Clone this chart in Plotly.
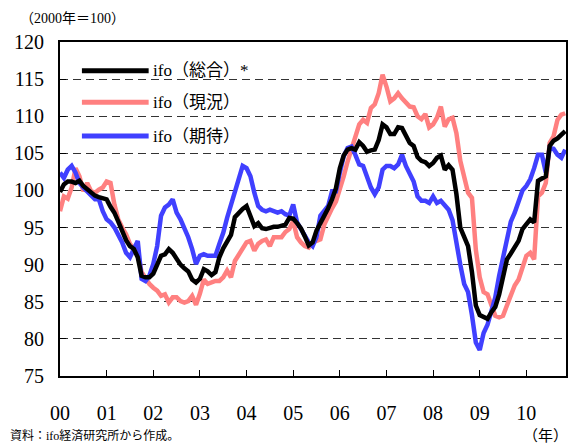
import plotly.graph_objects as go

# ---- data (monthly, Jan 2000 .. Nov 2010), 2000 = 100 ----
start_year = 2000
ifo_total = [
    99.8, 100.8, 101.2, 101.2, 101.0, 101.3, 100.6, 100.1, 99.7, 99.3, 99.1, 99.0,
    98.8, 97.8, 97.0, 95.8, 94.6, 93.3, 92.5, 92.1, 91.0, 88.5, 88.3, 88.3,
    88.8, 89.9, 91.2, 91.4, 92.1, 91.6, 90.8, 90.0, 89.5, 89.1, 88.0, 87.6,
    88.1, 89.4, 89.1, 88.6, 89.0, 91.0, 92.2, 93.0, 94.0, 96.4, 97.0, 97.5,
    97.9, 96.6, 95.2, 95.6, 94.9, 94.8, 95.0, 95.1, 95.1, 95.2, 95.4, 96.3,
    96.2, 95.6, 94.9, 93.8, 92.6, 93.0, 94.6, 95.6, 96.5, 97.6, 98.8, 100.3,
    103.0, 104.7, 105.5, 105.7, 105.5, 106.5, 106.0, 105.2, 105.4, 105.5, 106.8, 108.9,
    108.5, 107.6, 107.6, 108.5, 108.4, 107.3, 106.4, 106.0, 104.5, 104.0, 103.8, 103.3,
    103.7, 104.4, 104.7, 102.8, 103.4, 102.8, 99.5, 95.0, 93.8, 92.5, 89.0, 84.5,
    83.2, 83.0, 82.7, 83.6, 84.3, 86.0, 88.5, 90.7, 91.5, 92.3, 93.2, 94.8,
    95.4, 96.1, 95.7, 101.3, 101.6, 101.9, 106.0, 106.7, 107.0, 107.6, 108.0,
]
ifo_current = [
    97.2, 99.2, 98.9, 100.4, 103.0, 101.9, 99.9, 101.0, 99.9, 99.7, 100.1, 100.4,
    101.2, 101.0, 98.1, 96.1, 95.0, 94.1, 92.8, 92.3, 91.6, 89.0, 88.1, 87.4,
    86.9, 86.5, 85.8, 86.0, 84.9, 85.6, 85.6, 85.1, 84.9, 85.1, 85.8, 84.6,
    86.1, 88.0, 87.4, 87.6, 87.8, 87.8, 88.3, 89.2, 88.3, 90.5, 91.4, 92.1,
    93.0, 93.2, 91.9, 92.8, 93.2, 93.4, 92.5, 93.7, 93.7, 93.7, 94.4, 94.8,
    95.9, 93.7, 93.0, 92.5, 92.3, 93.0, 93.2, 93.4, 95.4, 96.7, 97.6, 98.5,
    100.1, 101.9, 103.9, 105.7, 107.3, 108.9, 109.5, 109.1, 111.1, 111.6, 113.1, 115.6,
    114.0, 112.0, 112.4, 113.1, 112.4, 111.8, 111.3, 111.2, 110.0, 109.6, 110.3, 108.5,
    108.9, 109.8, 111.3, 108.6, 109.6, 109.8, 107.7, 104.0, 101.8, 99.7, 99.0, 92.0,
    88.3, 86.3, 86.0, 84.5, 83.1, 82.9, 83.1, 84.5, 86.0, 87.2, 88.0, 89.4,
    91.2, 91.6, 90.7, 99.2, 99.7, 101.0, 106.4, 107.3, 109.5, 110.2, 110.4,
]
ifo_expect = [
    102.4, 101.7, 102.8, 103.3, 102.4, 101.0, 100.4, 99.9, 99.5, 98.8, 98.8, 97.2,
    96.1, 95.7, 95.0, 94.1, 93.0, 91.6, 91.0, 92.1, 93.2, 88.1, 87.8, 88.5,
    90.1, 92.5, 96.6, 97.7, 98.1, 98.8, 97.0, 96.1, 95.0, 93.7, 92.1, 90.1,
    91.2, 91.4, 91.2, 91.2, 91.2, 92.8, 94.3, 96.3, 98.1, 100.1, 101.7, 103.3,
    103.0, 101.9, 99.7, 97.9, 97.4, 97.2, 97.4, 97.2, 97.0, 97.2, 96.8, 96.6,
    98.1, 95.7, 94.8, 93.9, 93.0, 92.5, 93.7, 96.6, 97.2, 97.9, 99.9, 99.9,
    102.4, 104.6, 105.7, 105.9, 104.8, 103.5, 103.3, 101.7, 100.4, 99.5, 100.4, 102.8,
    103.3, 103.3, 103.0, 103.5, 104.8, 103.3, 102.1, 101.2, 99.2, 98.6, 98.6, 98.3,
    99.2, 98.3, 98.6, 97.9, 97.4, 96.0, 92.5, 90.0, 87.4, 86.3, 83.2, 79.5,
    78.5, 80.8, 81.9, 83.6, 85.6, 88.5, 91.0, 94.0, 95.8, 97.0, 98.5, 100.0,
    100.6, 101.5, 103.0, 104.8, 104.8, 102.4, 105.7, 105.6, 104.8, 104.4, 105.5,
]
year_ticks = list(range(2000, 2011))
year_labels = ["00", "01", "02", "03", "04", "05", "06", "07", "08", "09", "10"]
series_names = ["ifo（総合）*", "ifo（現況）", "ifo（期待）"]

months = [start_year + i / 12 for i in range(len(ifo_total))]

SERIF = "Liberation Serif, Times New Roman, Noto Sans CJK JP, serif"
BLACK = "#000000"
PINK = "#FF8080"
BLUE = "#4040FF"

fig = go.Figure()
fig.add_trace(go.Scatter(x=months, y=ifo_current, mode="lines", name=series_names[1],
                         line=dict(color=PINK, width=4.5), showlegend=False))
fig.add_trace(go.Scatter(x=months, y=ifo_expect, mode="lines", name=series_names[2],
                         line=dict(color=BLUE, width=4.5), showlegend=False))
fig.add_trace(go.Scatter(x=months, y=ifo_total, mode="lines", name=series_names[0],
                         line=dict(color=BLACK, width=4.5), showlegend=False))

# custom legend (long line samples like the original)
L, R, T, B = 60, 568, 42, 376
W, H = R - L, B - T
def px(x):
    return (x - L) / W
def py(y):
    return (B - y) / H

fig.add_shape(type="rect", xref="paper", yref="paper", layer="below",
              x0=px(68), x1=px(266), y0=py(148), y1=py(56),
              fillcolor="white", line=dict(width=0))
for name, color, yy in zip(series_names, [BLACK, PINK, BLUE], [70.7, 102.3, 136]):
    fig.add_shape(type="line", xref="paper", yref="paper",
                  x0=px(82), x1=px(149), y0=py(yy), y1=py(yy),
                  line=dict(color=color, width=5))
    fig.add_annotation(xref="paper", yref="paper", x=px(151), y=py(yy),
                       xanchor="left", yanchor="middle", showarrow=False,
                       text=name, font=dict(family=SERIF, size=17, color="black"))

fig.add_annotation(xref="paper", yref="paper", x=px(18), y=py(18),
                   xanchor="left", yanchor="middle", showarrow=False,
                   text="（2000年＝100）", font=dict(family=SERIF, size=14, color="black"))
fig.add_annotation(xref="paper", yref="paper", x=px(572), y=py(436),
                   xanchor="right", yanchor="middle", showarrow=False,
                   text="（年）", font=dict(family=SERIF, size=15, color="black"))
fig.add_annotation(xref="paper", yref="paper", x=px(8), y=py(445),
                   xanchor="left", yanchor="bottom", showarrow=False,
                   text="資料：ifo経済研究所から作成。", font=dict(family=SERIF, size=12, color="black"))

fig.update_xaxes(range=[2000, 2010.85], tickmode="array", tickvals=year_ticks,
                 ticktext=year_labels, ticks="inside", ticklen=6, tickwidth=1,
                 tickcolor="black", showline=True, linecolor="black", linewidth=2,
                 mirror=True, showgrid=False, zeroline=False, ticklabelstandoff=18,
                 tickfont=dict(family=SERIF, size=20, color="black"))
fig.update_yaxes(range=[75, 120], dtick=5, tick0=75, ticks="inside", ticklen=6,
                 tickwidth=1, tickcolor="black", showline=True, linecolor="black",
                 linewidth=2, mirror=True, showgrid=True, gridcolor="#333333",
                 gridwidth=1, griddash="8px,5px", zeroline=False,
                 ticklabelstandoff=10,
                 tickfont=dict(family=SERIF, size=20, color="black"))

fig.update_layout(width=573, height=446, margin=dict(l=L, r=573 - R, t=T, b=446 - B),
                  paper_bgcolor="white", plot_bgcolor="white")
fig.write_html("out.html", config={"displayModeBar": False})

# remove the browser's default body margin so the figure sits at the page origin
with open("out.html", encoding="utf-8") as f:
    html = f.read()
html = html.replace("<body>", '<body style="margin:0;padding:0;overflow:hidden">', 1)
with open("out.html", "w", encoding="utf-8") as f:
    f.write(html)
